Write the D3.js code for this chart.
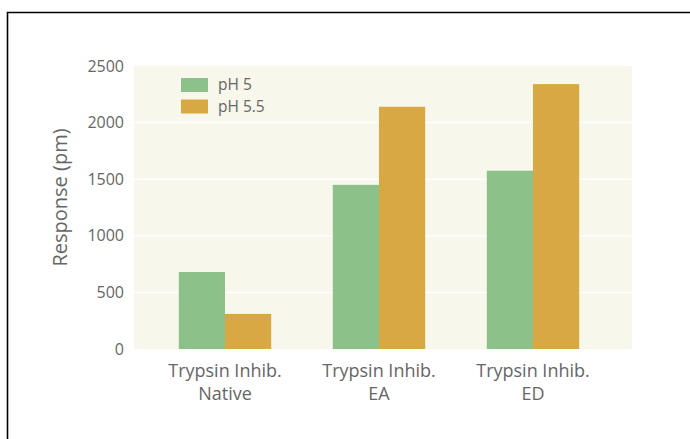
<!DOCTYPE html>
<html>
<head>
<meta charset="utf-8">
<script src="https://cdn.jsdelivr.net/npm/d3@7"></script>
<style>
    body { margin: 0; background: #fff; }
    svg { display: block; font-family: "Open Sans", sans-serif; }
</style>
</head>
<body>
<div id="chart"></div>
<script>
const categories = [['Trypsin Inhib.', 'Native'], ['Trypsin Inhib.', 'EA'], ['Trypsin Inhib.', 'ED']];
const seriesNames = ['pH 5', 'pH 5.5'];
const ph5Values = [680, 1450, 1575];
const ph55Values = [310, 2140, 2340];
const yTicks = [0, 500, 1000, 1500, 2000, 2500];
const colours = ['#8cc28a', '#d8a843'];

const WIDTH = 690, HEIGHT = 439;
const PLOT = { left: 134, right: 632, top: 66, bottom: 349 };

const svg = d3.select('#chart').append('svg')
    .attr('width', WIDTH)
    .attr('height', HEIGHT);

// frame round the figure (top and left edges visible only)
svg.append('path')
    .attr('d', `M7.5,${HEIGHT} V12.5 H${WIDTH}`)
    .attr('fill', 'none')
    .attr('stroke', '#000')
    .attr('stroke-width', 1.6);

const keys = categories.map(c => c.join(' '));
const x = d3.scaleBand()
    .domain(keys)
    .range([148, 610])
    .paddingInner(0.4)
    .paddingOuter(0.2);
const xSeries = d3.scaleBand()
    .domain(seriesNames)
    .range([0, x.bandwidth()]);
const y = d3.scaleLinear()
    .domain([0, 2500])
    .range([PLOT.bottom, PLOT.top]);

svg.append('rect')
    .attr('x', PLOT.left)
    .attr('y', PLOT.top)
    .attr('width', PLOT.right - PLOT.left)
    .attr('height', PLOT.bottom - PLOT.top)
    .attr('fill', '#f7f7ec');

svg.append('g')
    .selectAll('line')
    .data(yTicks.slice(1, -1))
    .join('line')
    .attr('x1', PLOT.left)
    .attr('x2', PLOT.right)
    .attr('y1', d => y(d))
    .attr('y2', d => y(d))
    .attr('stroke', '#fff')
    .attr('stroke-width', 1.5);

const rows = keys.map((k, i) => ({ key: k, values: [ph5Values[i], ph55Values[i]] }));

svg.append('g')
    .selectAll('g')
    .data(rows)
    .join('g')
    .attr('transform', d => `translate(${x(d.key)},0)`)
    .selectAll('rect')
    .data(d => d.values.map((v, j) => ({ name: seriesNames[j], value: v, j })))
    .join('rect')
    .attr('x', d => xSeries(d.name))
    .attr('width', xSeries.bandwidth())
    .attr('y', d => y(d.value))
    .attr('height', d => y(0) - y(d.value))
    .attr('fill', d => colours[d.j]);

// y axis
const yAxis = svg.append('g')
    .attr('transform', `translate(${PLOT.left - 10},0)`)
    .call(d3.axisLeft(y).tickValues(yTicks).tickFormat(d3.format('d')).tickSize(0).tickPadding(0));
yAxis.select('.domain').remove();
yAxis.selectAll('text')
    .attr('fill', '#666')
    .attr('font-size', 16)
    .attr('font-family', '"Open Sans", sans-serif');

svg.append('text')
    .attr('transform', `translate(67,${(PLOT.top + PLOT.bottom) / 2 - 10}) rotate(-90)`)
    .attr('text-anchor', 'middle')
    .attr('fill', '#666')
    .attr('font-size', 20)
    .text('Response (pm)');

// category labels
const catLabels = svg.append('g')
    .selectAll('text')
    .data(categories)
    .join('text')
    .attr('text-anchor', 'middle')
    .attr('fill', '#666')
    .attr('font-size', 18)
    .attr('x', (d, i) => x(keys[i]) + x.bandwidth() / 2)
    .attr('y', 377);
catLabels.selectAll('tspan')
    .data(d => d)
    .join('tspan')
    .attr('x', function () { return d3.select(this.parentNode).attr('x'); })
    .attr('dy', (d, i) => i === 0 ? 0 : 23)
    .text(d => d);

// legend
const legend = svg.append('g')
    .selectAll('g')
    .data(seriesNames)
    .join('g')
    .attr('transform', (d, i) => `translate(181,${78 + i * 21.5})`);
legend.append('rect')
    .attr('width', 27)
    .attr('height', 14)
    .attr('fill', (d, i) => colours[i]);
legend.append('text')
    .attr('x', 37)
    .attr('y', 12)
    .attr('fill', '#666')
    .attr('font-size', 15.5)
    .text(d => d);
</script>
</body>
</html>
